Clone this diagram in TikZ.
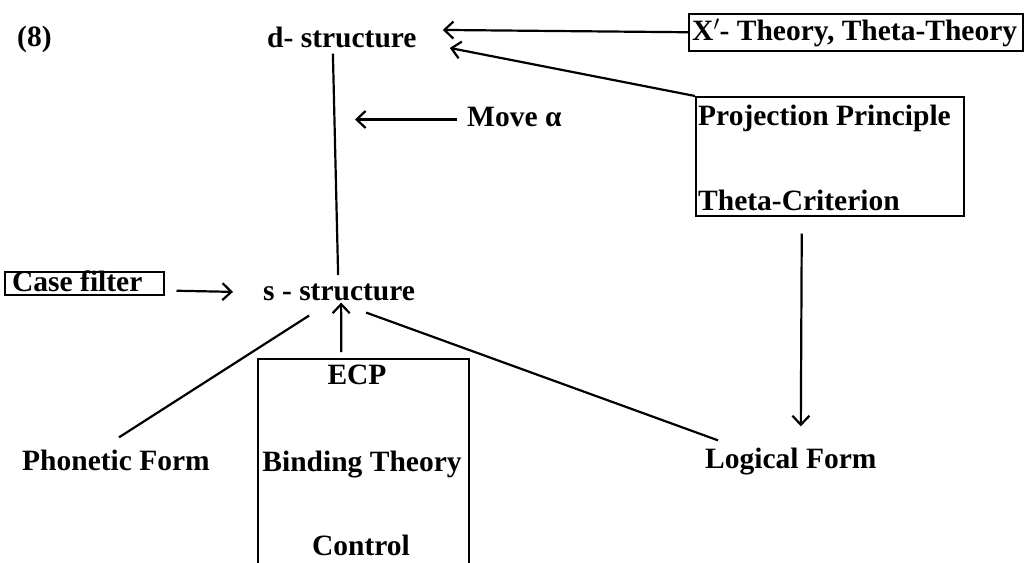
\documentclass[tikz,border=0pt]{standalone}
\usepackage{fontspec}
\setmainfont{Liberation Serif}
\usetikzlibrary{arrows.meta}
\begin{document}
\begin{tikzpicture}[x=1pt,y=-1pt,
  lbl/.style={inner sep=0pt, anchor=base west, font=\fontsize{29.5}{34}\selectfont\bfseries},
  clbl/.style={lbl, anchor=base},
  boxst/.style={draw, line width=1.5pt, inner sep=0pt, anchor=north west},
  conn/.style={line width=2.2pt},
  arr/.style={conn, -{Straight Barb[length=9pt,width=17pt,line width=2.2pt]}}]
\useasboundingbox[fill=white] (0,0) rectangle (1032,562);

% texts
\node[lbl] (n8) at (17,46) {(8)};
\node[lbl] (ds) at (267,47) {d- structure};
\node[lbl] (xt) at (692,40) {X$^{\prime}$- Theory, Theta-Theory};
\node[lbl] (mv) at (467,126) {Move α};
\node[lbl] (pp) at (698,125) {Projection Principle};
\node[lbl] (tc) at (698,210) {Theta-Criterion};
\node[lbl] (cf) at (12,291) {Case filter};
\node[lbl] (ss) at (263,300) {s - structure};
\node[clbl] (ecp) at (357,384) {ECP};
\node[clbl] (bt) at (362,471) {Binding Theory};
\node[clbl] (ctl) at (361,555) {Control};
\node[lbl] (pf) at (22,470) {Phonetic Form};
\node[lbl] (lf) at (705,468) {Logical Form};

% boxes
\node[boxst, minimum width=334pt, minimum height=37pt] (xbox) at (688,13) {};
\node[boxst, minimum width=268pt, minimum height=119pt] (pbox) at (695,96) {};
\node[boxst, minimum width=159pt, minimum height=23pt] (cfbox) at (4,271) {};
\node[boxst, minimum width=211pt, minimum height=240pt] (ecpbox) at (257,358) {};

% connectors
\draw[arr] (xbox.west) -- ([xshift=26pt,yshift=7pt]ds.east);
\draw[arr] (pbox.north west) -- ([xshift=33pt,yshift=-11pt]ds.east);
\draw[arr] ([xshift=-10pt,yshift=-3pt]mv.west) -- ([xshift=-112pt,yshift=-3pt]mv.west);
\draw[conn] ([xshift=-9pt,yshift=-6pt]ds.south) -- ([xshift=-1pt,yshift=8pt]ss.north);
\draw[arr] ([xshift=12pt,yshift=-7.5pt]cfbox.east) -- ([xshift=-30pt]ss.west);
\draw[arr] ([xshift=-22pt,yshift=6pt]ecpbox.north) -- ([xshift=2pt,yshift=-2pt]ss.south);
\draw[conn] ([xshift=-30pt,yshift=-15pt]ss.south) -- ([xshift=3pt,yshift=12pt]pf.north);
\draw[conn] ([xshift=27pt,yshift=-12pt]ss.south) -- ([xshift=13pt,yshift=7pt]lf.north west);
\draw[arr] ([xshift=-28pt,yshift=-17pt]pbox.south) -- ([xshift=10pt,yshift=21pt]lf.north);
\end{tikzpicture}
\end{document}
